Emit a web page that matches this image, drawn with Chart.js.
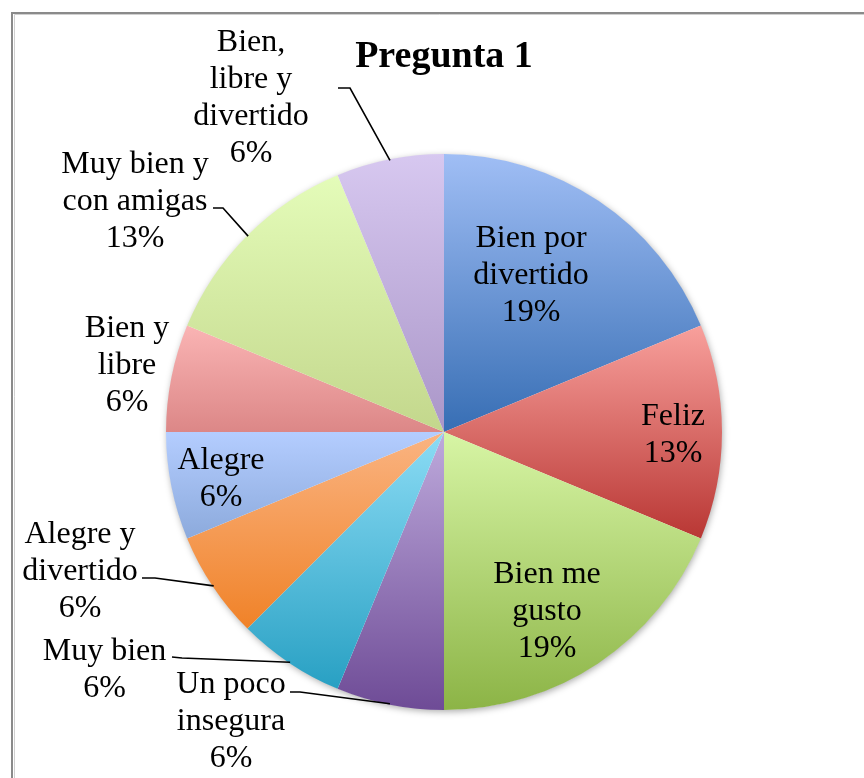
<!DOCTYPE html>
<html><head><meta charset="utf-8">
<script src="https://cdn.jsdelivr.net/npm/chart.js@4/dist/chart.umd.min.js"></script>
<style>html,body{margin:0;padding:0;background:#fff;overflow:hidden}#wrap{position:relative;width:864px;height:778px}</style>
</head><body><div id="wrap"><canvas id="c" width="864" height="778"></canvas></div>
<script>
const chartTitle = 'Pregunta 1';
const categories = ['Bien por divertido','Feliz','Bien me gusto','Un poco insegura','Muy bien','Alegre y divertido','Alegre','Bien y libre','Muy bien y con amigas','Bien, libre y divertido'];
const counts = [3, 2, 3, 1, 1, 1, 1, 1, 2, 1];
const labelLines = [['Bien por','divertido'],['Feliz'],['Bien me','gusto'],['Un poco','insegura'],['Muy bien'],['Alegre y','divertido'],['Alegre'],['Bien y','libre'],['Muy bien y','con amigas'],['Bien,','libre y','divertido']];
const topColors = ['#a0bef5','#f8a09c','#d7f5a5','#beaadc','#8cdcf5','#fab482','#b4cdff','#fab4b4','#e4fcb9','#d7c8f0'];
const bottomColors = ['#376eb4','#b93734','#8cb446','#6e4b96','#28a0c3','#f08228','#8caadc','#dc8787','#c3d78c','#aa96c8'];

// layout (offsets from pie centre, px)
const labelPos = [[87,-156],[229,3],[103,180],[-213,290],[-339.5,238],[-364,140],[-223,47],[-317,-66],[-309,-230.5],[-193,-333.5]];
const leaderPts = [null,null,null,
  [[-154,260],[-144,260]],
  [[-272,225],[-262,226]],
  [[-302,146],[-289,146]],
  null,null,
  [[-231,-224],[-221,-224]],
  [[-106,-344],[-94,-344]]];

const total = counts.reduce((a,b)=>a+b,0);
const percents = counts.map(v => Math.round(v/total*100) + '%');

function sliceFill(ctx){
  const chart = ctx.chart, a = chart.chartArea, i = ctx.dataIndex;
  if (!a || i === undefined) return bottomColors[i||0];
  const cx = (a.left+a.right)/2, cy = (a.top+a.bottom)/2, r = Math.min(a.width,a.height)/2;
  let before = 0; for (let j=0;j<i;j++) before += counts[j];
  const a0 = -Math.PI/2 + before/total*2*Math.PI, a1 = a0 + counts[i]/total*2*Math.PI;
  const ys = [cy, cy + r*Math.sin(a0), cy + r*Math.sin(a1)];
  for (const t of [-Math.PI/2, Math.PI/2, 3*Math.PI/2]) if (t >= a0-1e-9 && t <= a1+1e-9) ys.push(cy + r*Math.sin(t));
  const y0 = Math.min(...ys), y1 = Math.max(...ys);
  const g = chart.ctx.createLinearGradient(0, y0, 0, y1);
  g.addColorStop(0, topColors[i]); g.addColorStop(1, bottomColors[i]);
  return g;
}

const decor = {
  id: 'decor',
  beforeDraw(chart){
    const c = chart.ctx;
    c.save();
    c.fillStyle = '#fff'; c.fillRect(0,0,chart.width,chart.height);
    c.strokeStyle = '#8a8a8a'; c.lineWidth = 2;
    c.beginPath(); c.moveTo(12, chart.height); c.lineTo(12, 13); c.lineTo(chart.width, 13); c.stroke();
    c.strokeStyle = '#d0d0d0'; c.lineWidth = 1;
    c.beginPath(); c.moveTo(14.5, chart.height); c.lineTo(14.5, 14.5); c.lineTo(chart.width, 14.5); c.stroke();
    c.fillStyle = '#000'; c.font = 'bold 38px "Liberation Serif", "Times New Roman", serif';
    c.textAlign = 'center'; c.textBaseline = 'middle';
    const arc = chart.getDatasetMeta(0).data[0];
    c.fillText(chartTitle, arc ? arc.x : 444, 57);
    c.restore();
  },
  beforeDatasetsDraw(chart){
    const arc = chart.getDatasetMeta(0).data[0];
    if (!arc) return;
    const c = chart.ctx;
    c.save();
    c.shadowColor = 'rgba(0,0,0,0.35)'; c.shadowBlur = 7; c.shadowOffsetX = 1; c.shadowOffsetY = 2;
    c.fillStyle = '#fff';
    c.beginPath(); c.arc(arc.x, arc.y, arc.outerRadius-0.5, 0, Math.PI*2); c.fill();
    c.restore();
  },
  afterDatasetsDraw(chart){
    const meta = chart.getDatasetMeta(0);
    const c = chart.ctx;
    c.save();
    c.fillStyle = '#000'; c.strokeStyle = '#000'; c.lineWidth = 1.6;
    c.font = '32px "Liberation Serif", "Times New Roman", serif';
    c.textAlign = 'center'; c.textBaseline = 'middle';
    const lh = 37;
    meta.data.forEach((el, i) => {
      const cx = el.x, cy = el.y;
      const lines = labelLines[i].concat([percents[i]]);
      const bx = cx + labelPos[i][0], by = cy + labelPos[i][1];
      lines.forEach((t, k) => c.fillText(t, bx, by + (k - (lines.length-1)/2)*lh));
      if (leaderPts[i]) {
        const mid = (el.startAngle + el.endAngle)/2;
        const ex = cx + Math.cos(mid)*(el.outerRadius-1), ey = cy + Math.sin(mid)*(el.outerRadius-1);
        c.beginPath();
        c.moveTo(cx + leaderPts[i][0][0], cy + leaderPts[i][0][1]);
        c.lineTo(cx + leaderPts[i][1][0], cy + leaderPts[i][1][1]);
        c.lineTo(ex, ey);
        c.stroke();
      }
    });
    c.restore();
  }
};

new Chart(document.getElementById('c'), {
  type: 'pie',
  data: { labels: categories, datasets: [{ data: counts, backgroundColor: sliceFill, borderWidth: 0, hoverOffset: 0 }] },
  options: {
    responsive: false, animation: false, events: [],
    layout: { padding: { left: 166, right: 142, top: 154, bottom: 68 } },
    plugins: { legend: { display: false }, tooltip: { enabled: false }, title: { display: false } }
  },
  plugins: [decor]
});
</script></body></html>
